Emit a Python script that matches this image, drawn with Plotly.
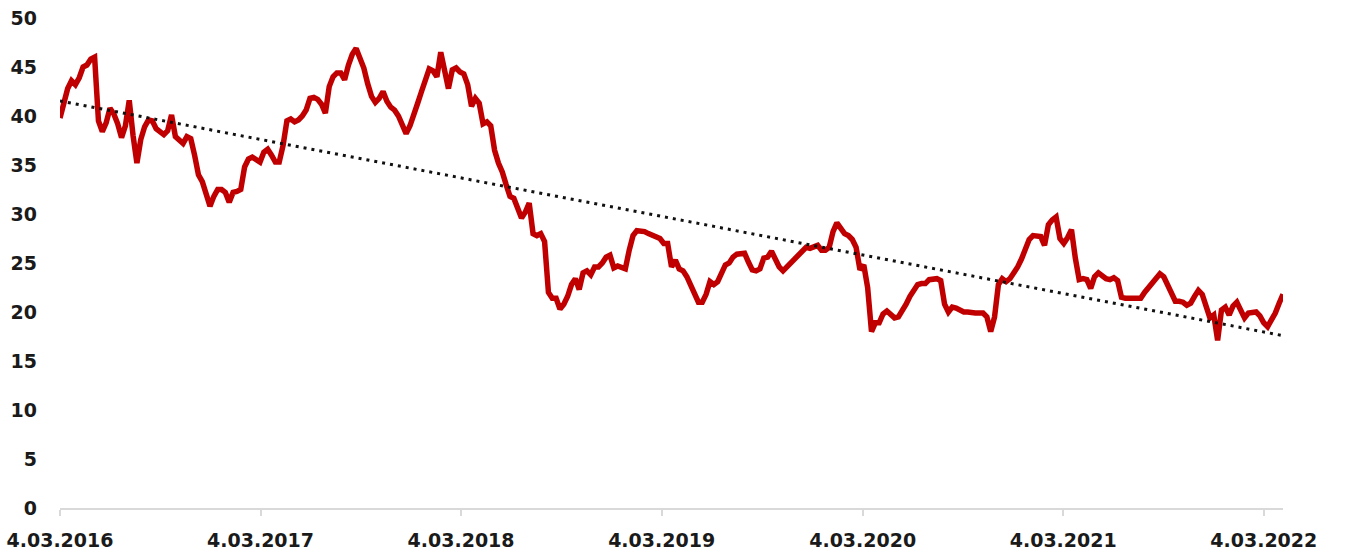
import numpy as np
import pandas as pd
import plotly.graph_objects as go

# Weekly observations starting 4 March 2016
start_date = "2016-03-04"
values = [
    39.8, 41.5, 42.8, 43.6, 43.2, 43.9, 45.0, 45.2, 45.8, 46.0,
    39.5, 38.4, 39.3, 40.8, 40.2, 39.2, 37.8, 39.0, 41.6, 38.0,
    35.2, 37.6, 38.9, 39.6, 39.5, 38.7, 38.4, 38.1, 38.5, 40.1,
    37.9, 37.6, 37.2, 37.9, 37.7, 36.0, 34.0, 33.3, 32.2, 30.8,
    31.8, 32.5, 32.5, 32.2, 31.2, 32.2, 32.3, 32.5, 34.8, 35.6,
    35.8, 35.6, 35.3, 36.3, 36.6, 36.0, 35.3, 35.3, 37.0, 39.5,
    39.7, 39.4, 39.6, 40.0, 40.6, 41.8, 41.9, 41.7, 41.2, 40.3,
    43.0, 44.0, 44.4, 44.4, 43.7, 45.2, 46.3, 46.9, 45.9, 44.9,
    43.3, 42.0, 41.4, 41.8, 42.5, 41.5, 40.9, 40.6, 40.0, 39.0,
    38.2, 39.0, 40.4, 41.3, 42.5, 43.8, 44.8, 44.6, 44.0, 46.5,
    44.6, 42.8, 44.7, 44.9, 44.5, 44.3, 43.2, 41.0, 41.8, 41.3,
    39.2, 39.4, 39.0, 36.5, 35.2, 34.3, 33.0, 31.8, 31.6, 30.4,
    29.6, 30.2, 31.1, 28.0, 27.8, 28.0, 27.2, 22.0, 21.4, 21.4,
    20.3, 20.8, 21.6, 22.8, 23.4, 22.3, 24.0, 24.2, 23.8, 24.6,
    24.6, 25.0, 25.6, 25.8, 24.5, 24.7, 24.6, 24.4, 26.3, 27.8,
    28.3, 28.3, 28.2, 28.0, 27.8, 27.6, 27.5, 27.0, 27.0, 24.6,
    25.3, 24.4, 24.2, 23.6, 22.8, 22.0, 21.0, 21.0, 21.8, 23.1,
    22.8, 23.1, 24.0, 24.8, 25.0, 25.6, 25.9, 26.0, 26.0, 25.1,
    24.3, 24.2, 24.4, 25.5, 25.6, 26.2, 25.5, 24.6, 24.2, 24.6,
    25.0, 25.3, 25.8, 26.2, 26.6, 26.5, 26.7, 26.8, 26.3, 26.3,
    26.6, 28.2, 29.1, 28.5, 28.0, 27.8, 27.4, 26.6, 24.3, 24.8,
    22.5, 18.0, 18.9, 18.9, 19.8, 20.1, 19.8, 19.4, 19.5, 20.1,
    20.8, 21.6, 22.3, 22.8, 22.9, 22.9, 23.3, 23.3, 23.4, 23.2,
    20.8, 20.0, 20.5, 20.4, 20.2, 20.0, 20.0, 19.9, 19.9, 19.9,
    19.9, 19.5, 18.0, 19.5, 22.8, 23.4, 23.1, 23.4, 23.9, 24.6,
    25.4, 26.3, 27.4, 27.8, 27.7, 27.7, 26.8, 28.9, 29.4, 29.7,
    27.5, 27.0, 27.6, 28.4, 25.5, 23.3, 23.4, 23.3, 22.4, 23.6,
    24.0, 23.7, 23.4, 23.3, 23.5, 23.2, 21.5, 21.4, 21.4, 21.4,
    21.3, 21.4, 22.0, 22.5, 22.9, 23.4, 23.9, 23.6, 22.8, 21.8,
    21.1, 21.1, 21.0, 20.7, 20.9, 21.6, 22.2, 21.8, 20.7, 19.4,
    19.7, 17.1, 20.2, 20.5, 19.7, 20.6, 21.0, 20.2, 19.4, 19.9,
    20.0, 20.0, 19.6, 18.9, 18.5, 19.2, 19.9, 20.9, 21.8,
]
dates = pd.date_range(start_date, periods=len(values), freq="7D")

tick_dates = ["2016-03-04", "2017-03-04", "2018-03-04", "2019-03-04",
              "2020-03-04", "2021-03-04", "2022-03-04"]
tick_labels = ["4.03.2016", "4.03.2017", "4.03.2018", "4.03.2019",
               "4.03.2020", "4.03.2021", "4.03.2022"]
y_ticks = [0, 5, 10, 15, 20, 25, 30, 35, 40, 45, 50]

# Linear trend line (least squares), as in the original chart
t = np.arange(len(values))
slope, intercept = np.polyfit(t, np.array(values), 1)
trend = intercept + slope * t

fig = go.Figure()
fig.add_trace(go.Scatter(
    x=dates, y=values, mode="lines",
    line=dict(color="#C00000", width=5.5), showlegend=False,
))
fig.add_trace(go.Scatter(
    x=[dates[0], dates[-1]], y=[trend[0], trend[-1]], mode="lines",
    line=dict(color="#111111", width=3, dash="3px,5px"), showlegend=False,
))

font = dict(family="DejaVu Sans", size=19, color="#1a1a1a", weight="bold")

fig.update_layout(
    width=1349, height=551,
    margin=dict(l=60, r=66, t=18, b=43),
    paper_bgcolor="white", plot_bgcolor="white",
    xaxis=dict(
        type="date", automargin=False,
        range=[dates[0], dates[-1]],
        tickvals=tick_dates, ticktext=tick_labels,
        tickfont=font,
        showgrid=False, zeroline=False,
        showline=True, linecolor="#D9D9D9", linewidth=2,
        ticks="outside", tickcolor="#D9D9D9", tickwidth=1.5, ticklen=6,
        ticklabelstandoff=8,
    ),
    yaxis=dict(
        automargin=False,
        range=[0, 50], tickvals=y_ticks,
        tickfont=font,
        showgrid=False, zeroline=False, showline=False,
        ticks="", ticklabelstandoff=22,
    ),
)

fig.write_html("out.html")
